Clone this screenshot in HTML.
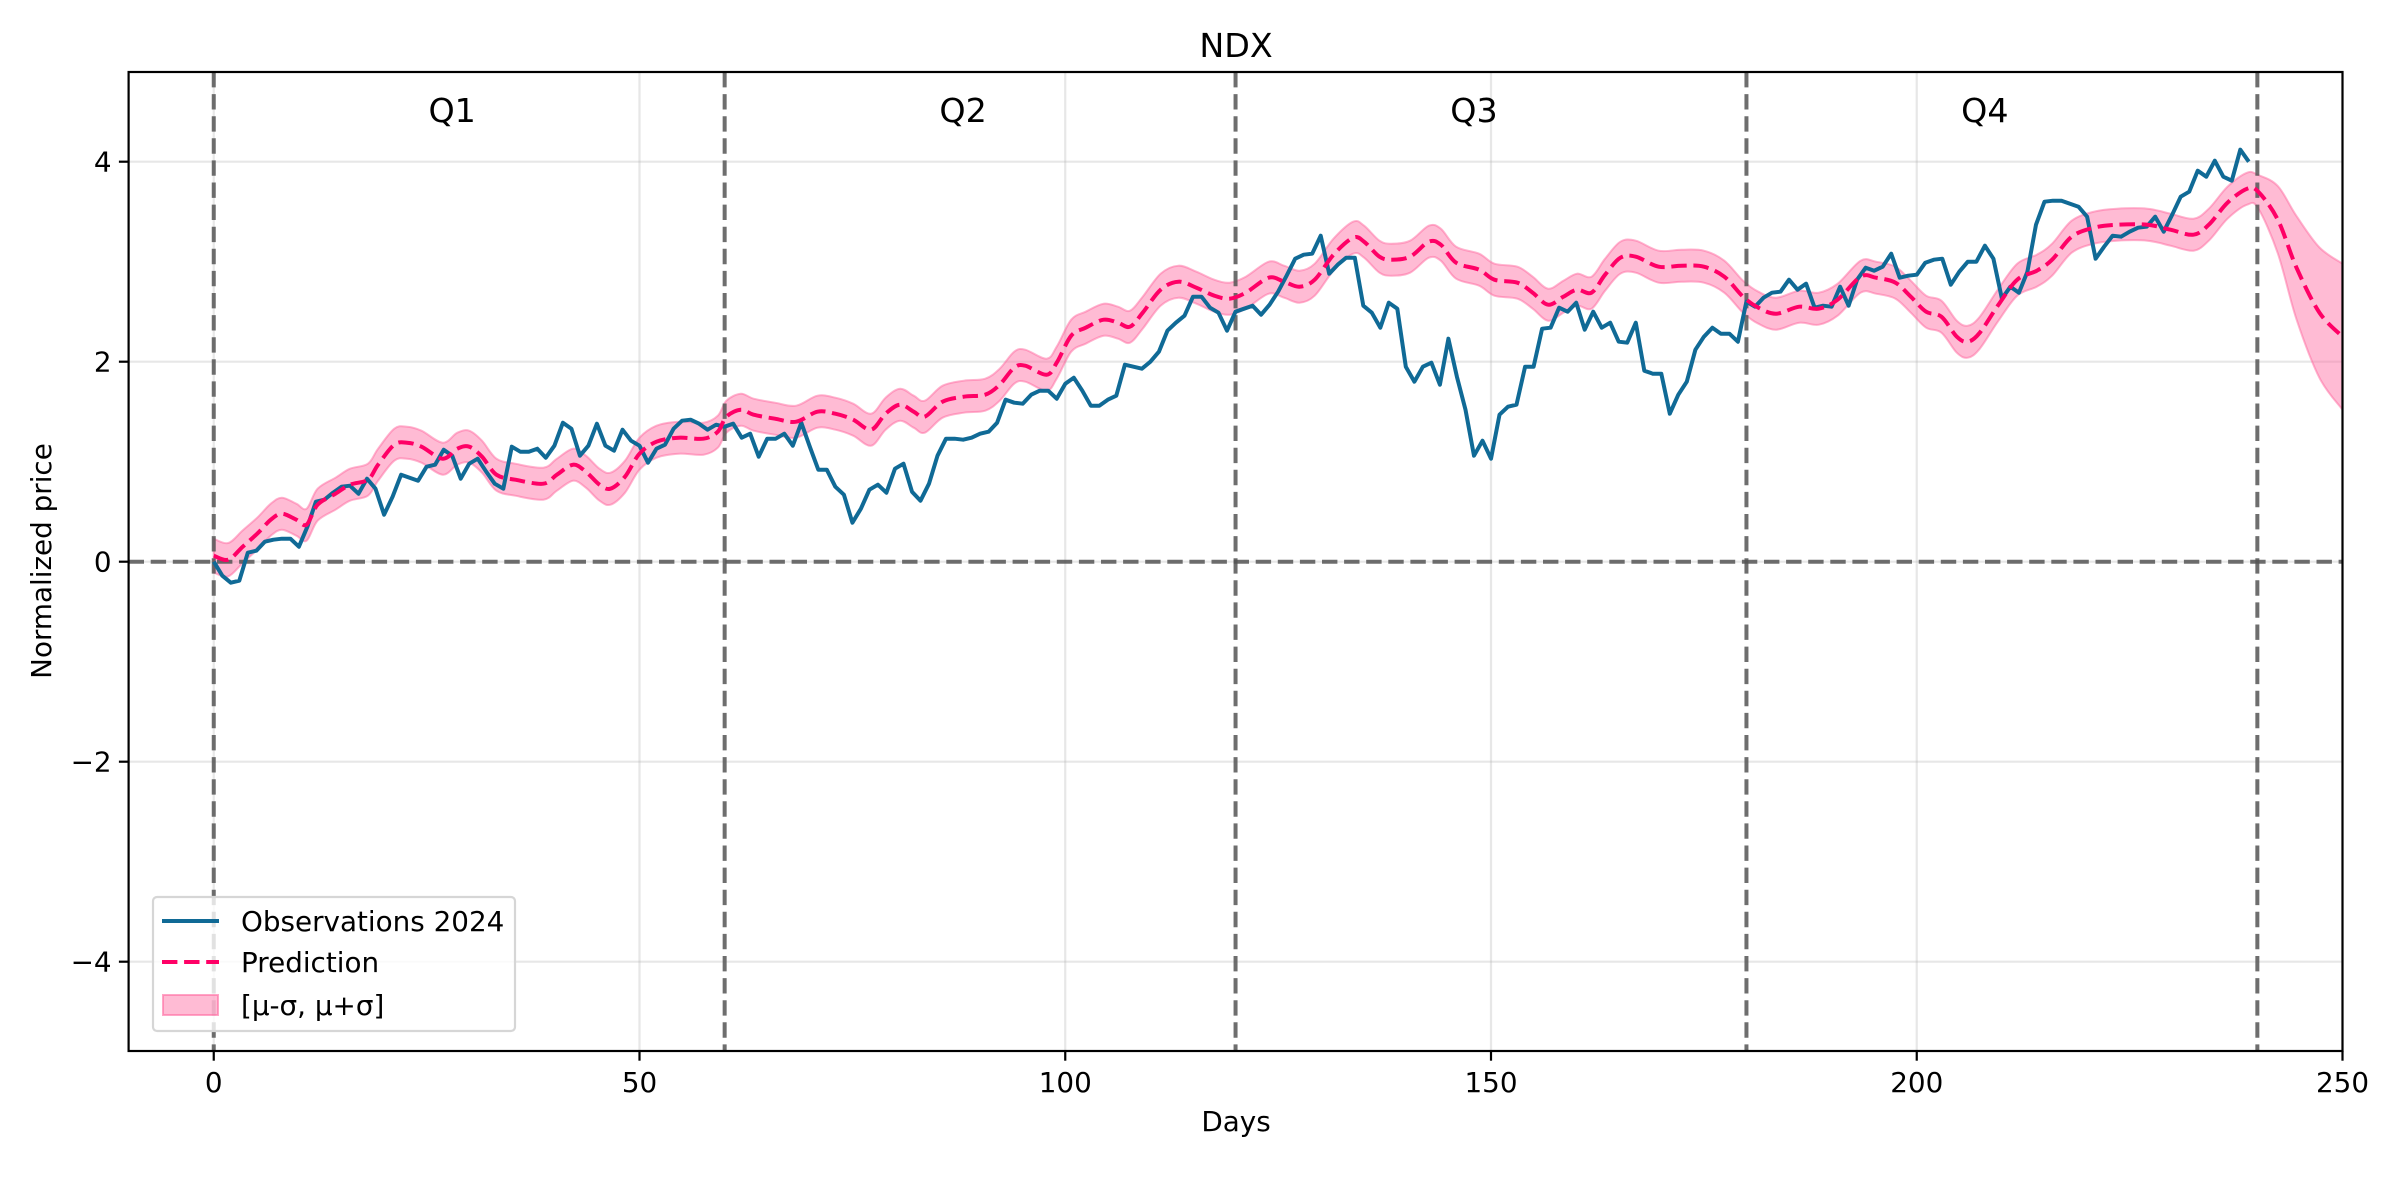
<!DOCTYPE html>
<html><head><meta charset="utf-8"><style>
html,body{margin:0;padding:0;background:#fff;}
svg{display:block;font-family:"DejaVu Sans","Liberation Sans",sans-serif;}
</style></head><body>
<svg id="chart" width="2400" height="1200" viewBox="0 0 2400 1200" xmlns="http://www.w3.org/2000/svg">
<rect width="2400" height="1200" fill="#fff"/>
<g id="grid"></g>
<g id="band"></g>
<g id="refs"></g>
<g id="series"></g>
<g id="axes"></g>
<g id="legend">
  <rect x="153" y="897" width="362" height="134" rx="4" fill="#fff" fill-opacity="0.8" stroke="#d6d6d6" stroke-width="2.2"/>
  <line x1="162" y1="921" x2="219" y2="921" stroke="#106a96" stroke-width="4"/>
  <text x="241" y="931" font-size="27.8" fill="#000">Observations 2024</text>
  <line x1="162" y1="962" x2="219" y2="962" stroke="#ff0066" stroke-width="4" stroke-dasharray="15.4 6.7"/>
  <text x="241" y="972" font-size="27.8" fill="#000">Prediction</text>
  <rect x="163" y="995" width="55" height="20" fill="#ff69a0" fill-opacity="0.45" stroke="#ff69a0" stroke-opacity="0.6" stroke-width="2"/>
  <text x="241" y="1015" font-size="27.8" fill="#000">[μ-σ, μ+σ]</text>
</g>
<text x="1236" y="57" font-size="33.3" text-anchor="middle" fill="#000">NDX</text>
<text x="1236" y="1131" font-size="27.8" text-anchor="middle" fill="#000">Days</text>
<text x="0" y="0" font-size="27.8" text-anchor="middle" fill="#000" transform="translate(51,561) rotate(-90)">Normalized price</text>
</svg>
<script>
const obsValues=[0,-0.14,-0.21,-0.19,0.09,0.11,0.2,0.22,0.23,0.23,0.15,0.35,0.6,0.62,0.69,0.75,0.76,0.68,0.83,0.73,0.47,0.65,0.87,0.84,0.81,0.95,0.97,1.12,1.06,0.83,0.98,1.03,0.9,0.78,0.73,1.15,1.1,1.1,1.13,1.04,1.16,1.39,1.33,1.06,1.16,1.38,1.16,1.11,1.32,1.21,1.16,0.99,1.13,1.17,1.33,1.41,1.42,1.38,1.32,1.37,1.35,1.38,1.24,1.28,1.05,1.23,1.23,1.28,1.16,1.39,1.15,0.92,0.92,0.75,0.67,0.39,0.53,0.72,0.77,0.69,0.93,0.98,0.7,0.61,0.78,1.06,1.23,1.23,1.22,1.24,1.28,1.3,1.39,1.62,1.59,1.58,1.67,1.71,1.71,1.63,1.78,1.84,1.71,1.56,1.56,1.62,1.66,1.97,1.95,1.93,2.0,2.1,2.31,2.39,2.46,2.65,2.65,2.54,2.49,2.31,2.5,2.53,2.56,2.47,2.57,2.7,2.86,3.03,3.07,3.08,3.26,2.88,2.97,3.04,3.04,2.56,2.49,2.34,2.59,2.53,1.95,1.8,1.95,1.99,1.77,2.23,1.85,1.52,1.06,1.21,1.03,1.47,1.55,1.57,1.95,1.95,2.33,2.34,2.54,2.5,2.59,2.32,2.5,2.34,2.39,2.2,2.19,2.39,1.91,1.88,1.88,1.48,1.67,1.8,2.12,2.25,2.34,2.28,2.28,2.2,2.6,2.55,2.64,2.69,2.7,2.82,2.72,2.78,2.54,2.56,2.55,2.75,2.56,2.82,2.94,2.91,2.95,3.08,2.84,2.86,2.87,2.99,3.02,3.03,2.77,2.9,3.0,3.0,3.16,3.03,2.63,2.75,2.69,2.9,3.37,3.6,3.61,3.61,3.58,3.55,3.45,3.03,3.15,3.26,3.25,3.3,3.34,3.35,3.45,3.3,3.47,3.65,3.7,3.91,3.85,4.01,3.85,3.81,4.12,4.0];
const predDays=[0,1.7,3.4,5.1,6.7,8,9.7,10.9,12.2,14.3,16,18.1,19.3,21.2,22.7,24.4,26.9,28.6,30,31.5,33.2,35.4,38.7,40.3,42.2,43.7,45.3,46.6,48.3,50,52,54.6,57.5,59.2,60.2,61.9,63.4,65.9,68.4,70.9,73,75.1,77.2,78.9,80.6,82.2,83.5,85.6,88.1,90.6,92.3,94,95.3,97.8,99,100.7,102.4,104.5,106.2,107.6,109.1,111.2,113.3,115.4,117.5,119.3,121.2,123.9,125.7,127.5,129.3,131.5,133.8,135.1,136.9,138.3,140.5,142.7,144.1,145.9,148.6,150.4,153.1,154.9,156.7,158.5,160.1,161.8,163.4,165.2,167,169.7,172.4,175,177.4,179.6,181.4,183.5,186.2,188.5,190.7,193.4,195.2,197.5,199.3,201.1,202.9,204.7,206,207.4,209.6,211.8,214.1,215.9,218.2,220.8,223.5,227.1,229.8,232.5,234.3,236.5,238.8,240.1,242.4,244.6,247.3,250];
const predMean=[0.06,0.02,0.15,0.28,0.42,0.48,0.42,0.37,0.57,0.68,0.77,0.82,0.97,1.17,1.19,1.15,1.03,1.13,1.15,1.05,0.87,0.82,0.78,0.87,0.97,0.9,0.77,0.73,0.85,1.08,1.2,1.24,1.23,1.3,1.45,1.52,1.47,1.43,1.4,1.5,1.48,1.42,1.32,1.48,1.57,1.5,1.45,1.6,1.65,1.67,1.77,1.94,1.96,1.87,1.99,2.26,2.34,2.42,2.39,2.35,2.49,2.72,2.8,2.74,2.66,2.63,2.69,2.84,2.8,2.75,2.82,3.07,3.24,3.2,3.05,3.02,3.05,3.2,3.17,2.99,2.92,2.82,2.79,2.69,2.57,2.65,2.72,2.69,2.87,3.04,3.05,2.95,2.96,2.95,2.85,2.65,2.54,2.48,2.55,2.53,2.62,2.85,2.84,2.79,2.65,2.5,2.45,2.25,2.2,2.29,2.57,2.82,2.91,3.02,3.25,3.34,3.37,3.37,3.32,3.27,3.37,3.59,3.73,3.7,3.42,2.94,2.49,2.25];
const sigmaDays=[0,5,10,240,242,244,246,248,250];
const sigmaValues=[0.17,0.16,0.16,0.16,0.3,0.48,0.6,0.68,0.73];
const xTicks=[0,50,100,150,200,250];
const yTicks=[-4,-2,0,2,4];
const quarterStarts=[0,60,120,180,240];
const quarterLabels=["Q1","Q2","Q3","Q4"];

const L=128.6,R=2342.5,T=72,B=1051;
const XMIN=-10,XMAX=250,YMIN=-4.893,YMAX=4.897;
const sx=d=>L+(d-XMIN)/(XMAX-XMIN)*(R-L);
const sy=v=>B-(v-YMIN)/(YMAX-YMIN)*(B-T);
const NS="http://www.w3.org/2000/svg";
function mk(tag,attrs,parent){const e=document.createElementNS(NS,tag);for(const k in attrs)e.setAttribute(k,attrs[k]);parent.appendChild(e);return e;}
function sigmaAt(d){for(let i=0;i<sigmaDays.length-1;i++){if(d<=sigmaDays[i+1]){const t=(d-sigmaDays[i])/(sigmaDays[i+1]-sigmaDays[i]);return sigmaValues[i]+t*(sigmaValues[i+1]-sigmaValues[i]);}}return sigmaValues[sigmaValues.length-1];}
function smooth(pts){let d="M"+pts[0][0].toFixed(1)+","+pts[0][1].toFixed(1);for(let i=0;i<pts.length-1;i++){const p0=pts[Math.max(0,i-1)],p1=pts[i],p2=pts[i+1],p3=pts[Math.min(pts.length-1,i+2)];const c1=[p1[0]+(p2[0]-p0[0])/6,p1[1]+(p2[1]-p0[1])/6],c2=[p2[0]-(p3[0]-p1[0])/6,p2[1]-(p3[1]-p1[1])/6];d+="C"+c1[0].toFixed(1)+","+c1[1].toFixed(1)+" "+c2[0].toFixed(1)+","+c2[1].toFixed(1)+" "+p2[0].toFixed(1)+","+p2[1].toFixed(1);}return d;}

const grid=document.getElementById('grid');
xTicks.forEach(t=>{const g=mk('line',{x1:sx(t),x2:sx(t),y1:T,y2:B,stroke:'#b0b0b0','stroke-opacity':0.3,'stroke-width':2.2},grid);

});
yTicks.forEach(t=>{const g=mk('line',{x1:L,x2:R,y1:sy(t),y2:sy(t),stroke:'#b0b0b0','stroke-opacity':0.3,'stroke-width':2.2},grid);

});

const band=document.getElementById('band');
const up=predDays.map((d,i)=>[sx(d),sy(predMean[i]+sigmaAt(d))]);
const lo=predDays.map((d,i)=>[sx(d),sy(predMean[i]-sigmaAt(d))]).reverse();
const upPath=smooth(up),loPath=smooth(lo);
const bp=mk('path',{d:upPath+" L"+lo[0][0].toFixed(1)+","+lo[0][1].toFixed(1)+loPath.replace(/^M[^C]*/,"")+"Z",fill:'#ff69a0','fill-opacity':0.45,stroke:'#ff69a0','stroke-opacity':0.5,'stroke-width':2},band);



const refs=document.getElementById('refs');
quarterStarts.forEach(q=>{const l=mk('line',{x1:sx(q),x2:sx(q),y1:T,y2:B,stroke:'#555','stroke-opacity':0.85,'stroke-width':4,'stroke-dasharray':'15.4 6.7'},refs);

});
const zl=mk('line',{x1:L,x2:R,y1:sy(0),y2:sy(0),stroke:'#555','stroke-opacity':0.85,'stroke-width':4,'stroke-dasharray':'15.4 6.7'},refs);


quarterLabels.forEach((q,i)=>{const t=mk('text',{x:sx(quarterStarts[i]+28),y:122,'font-size':33.3,'text-anchor':'middle',fill:'#000'},refs);t.textContent=q;

});

const series=document.getElementById('series');
const op=mk('polyline',{points:obsValues.map((v,i)=>sx(i).toFixed(1)+","+sy(v).toFixed(1)).join(" "),fill:'none',stroke:'#106a96','stroke-width':4,'stroke-linejoin':'round'},series);


const pp=mk('path',{d:smooth(predDays.map((d,i)=>[sx(d),sy(predMean[i])])),fill:'none',stroke:'#ff0066','stroke-width':4,'stroke-dasharray':'15.4 6.7'},series);



const axes=document.getElementById('axes');
const fr=mk('rect',{x:L,y:T,width:R-L,height:B-T,fill:'none',stroke:'#000','stroke-width':2.2},axes);


xTicks.forEach(t=>{mk('line',{x1:sx(t),x2:sx(t),y1:B,y2:B+9.7,stroke:'#000','stroke-width':2.2},axes);
const lb=mk('text',{x:sx(t),y:B+41,'font-size':27.8,'text-anchor':'middle',fill:'#000'},axes);lb.textContent=t;

});
yTicks.forEach(t=>{mk('line',{x1:L-9.7,x2:L,y1:sy(t),y2:sy(t),stroke:'#000','stroke-width':2.2},axes);
const lb=mk('text',{x:L-17,y:sy(t)+10,'font-size':27.8,'text-anchor':'end',fill:'#000'},axes);lb.textContent=(t<0?'\u2212'+(-t):t);

});
</script>
</body></html>
